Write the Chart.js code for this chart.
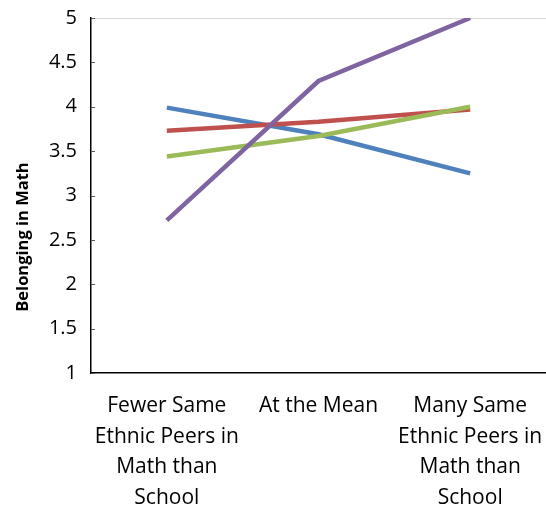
<!DOCTYPE html>
<html>
<head>
<meta charset="utf-8">
<script src="https://cdn.jsdelivr.net/npm/chart.js@4/dist/chart.umd.min.js"></script>
<style>
  html, body { margin: 0; padding: 0; background: #fff; }
  #wrap { width: 546px; height: 506px; }
</style>
</head>
<body>
<div id="wrap"><canvas id="c" width="546" height="506"></canvas></div>
<script>
// Categories (multi-line labels) and the four series of belonging scores
const categories = [
  ['Fewer Same', 'Ethnic Peers in', 'Math than', 'School'],
  ['At the Mean'],
  ['Many Same', 'Ethnic Peers in', 'Math than', 'School']
];
const seriesBlue   = [3.99, 3.69, 3.25];
const seriesRed    = [3.73, 3.83, 3.97];
const seriesGreen  = [3.44, 3.67, 4.00];
const seriesPurple = [2.72, 4.29, 5.00];
const yTicks = [1, 1.5, 2, 2.5, 3, 3.5, 4, 4.5, 5];
const yTitle = 'Belonging in Math';

const FONT = "'Open Sans', 'Liberation Sans', sans-serif";

// Vertical axis title drawn on the left edge, plus short inward tick marks
const axisDecorPlugin = {
  id: 'axisDecor',
  afterDraw(chart) {
    const ctx = chart.ctx;
    const y = chart.scales.y;
    ctx.save();
    ctx.strokeStyle = '#595959';
    ctx.lineWidth = 1;
    yTicks.forEach(v => {
      const py = Math.round(y.getPixelForValue(v)) + 0.5;
      ctx.beginPath();
      ctx.moveTo(y.right, py);
      ctx.lineTo(y.right + 4, py);
      ctx.stroke();
    });
    ctx.restore();

    ctx.save();
    ctx.translate(23, 237);
    ctx.rotate(-Math.PI / 2);
    ctx.font = "bold 16.5px " + FONT;
    ctx.fillStyle = '#000';
    ctx.textAlign = 'center';
    ctx.textBaseline = 'middle';
    ctx.fillText(yTitle, 0, 0);
    ctx.restore();
  }
};

function line(data, color, order) {
  return {
    data: data,
    borderColor: color,
    backgroundColor: color,
    borderWidth: 4.5,
    pointRadius: 0,
    pointHoverRadius: 0,
    tension: 0,
    fill: false,
    order: order
  };
}

new Chart(document.getElementById('c'), {
  type: 'line',
  data: {
    labels: categories,
    datasets: [
      line(seriesBlue,   '#4F81BD', 4),
      line(seriesRed,    '#C0504D', 3),
      line(seriesGreen,  '#9BBB59', 2),
      line(seriesPurple, '#8064A2', 1)
    ]
  },
  options: {
    responsive: false,
    animation: false,
    events: [],
    layout: { padding: { top: 18, right: 0, bottom: 0, left: 0 } },
    plugins: { legend: { display: false }, tooltip: { enabled: false } },
    scales: {
      x: {
        offset: true,
        grid: { display: true, color: 'rgba(0,0,0,0)', drawTicks: false, offset: true },
        border: { color: '#000', width: 1.5 },
        ticks: {
          color: '#000',
          font: { family: FONT, size: 21, lineHeight: 1.45 },
          padding: 18,
          maxRotation: 0,
          autoSkip: false
        },
        afterFit(scale) {
          scale.height = 133;
          scale.paddingLeft = 0;
          scale.paddingRight = 0;
        }
      },
      y: {
        min: 1,
        max: 5,
        afterBuildTicks(scale) { scale.ticks = yTicks.map(v => ({ value: v })); },
        grid: {
          color: ctx => (ctx.tick && ctx.tick.value === 5) ? '#D9D9D9' : 'rgba(0,0,0,0)',
          drawTicks: false
        },
        border: { color: '#000', width: 1.5 },
        ticks: {
          color: '#000',
          font: { family: FONT, size: 20 },
          padding: 14,
          callback: v => String(v)
        },
        afterFit(scale) {
          scale.width = 91;
          scale.paddingTop = 0;
          scale.paddingBottom = 0;
        }
      }
    }
  },
  plugins: [axisDecorPlugin]
});
</script>
</body>
</html>
